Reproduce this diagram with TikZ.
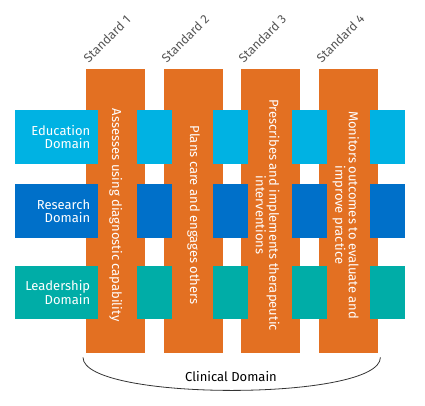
\documentclass[tikz,border=0pt]{standalone}
\usepackage{fontspec}
\setmainfont{Fira Sans}
\usetikzlibrary{positioning}
\definecolor{stdorange}{RGB}{227,112,34}
\definecolor{edublue}{RGB}{0,178,227}
\definecolor{resblue}{RGB}{0,112,201}
\definecolor{leadteal}{RGB}{0,173,167}
\definecolor{stdgray}{RGB}{85,85,85}

\begin{document}
\begin{tikzpicture}[x=1pt, y=-1pt, font=\fontsize{13}{13.5}\selectfont,
  stdcol/.style={fill=stdorange, minimum width=59pt, minimum height=284pt, inner sep=0pt, anchor=north west},
  dombox/.style={minimum width=83pt, minimum height=54pt, inner sep=0pt, anchor=north west, text=white, text width=67pt, align=right},
  cell/.style={minimum width=35pt, minimum height=54pt, inner sep=0pt, anchor=north west},
  colnote/.style={rotate=-90, text=white, align=center, inner sep=0pt},
  stdlabel/.style={rotate=45, anchor=south west, inner sep=0pt, text=stdgray, font=\fontsize{12.5}{14}\selectfont}]
\useasboundingbox (0,0) rectangle (425,406);

% Standards
\node[stdcol] (col1) at (86,69) {};
\node[stdcol] (col2) at (164,69) {};
\node[stdcol] (col3) at (241,69) {};
\node[stdcol] (col4) at (319,69) {};
\node[stdlabel] (std1) at ([xshift=3pt,yshift=5pt]col1.north west) {Standard 1};
\node[stdlabel] (std2) at ([xshift=3pt,yshift=5pt]col2.north west) {Standard 2};
\node[stdlabel] (std3) at ([xshift=3pt,yshift=5pt]col3.north west) {Standard 3};
\node[stdlabel] (std4) at ([xshift=3pt,yshift=5pt]col4.north west) {Standard 4};

% Education
\node[dombox, fill=edublue] (edu) at (15,110) {Education\\Domain};
\node[cell, fill=edublue] (edu1) at (137,110) {};
\node[cell, fill=edublue] (edu2) at (213,110) {};
\node[cell, fill=edublue] (edu3) at (292,110) {};
\node[cell, fill=edublue] (edu4) at (370,110) {};

% Research
\node[dombox, fill=resblue] (res) at (15,184) {Research\\Domain};
\node[cell, fill=resblue] (res1) at (137,184) {};
\node[cell, fill=resblue] (res2) at (213,184) {};
\node[cell, fill=resblue] (res3) at (292,184) {};
\node[cell, fill=resblue] (res4) at (370,184) {};

% Leadership
\node[dombox, fill=leadteal, minimum height=53pt] (lead) at (15,266) {Leadership\\Domain};
\node[cell, fill=leadteal, minimum height=53pt] (lead1) at (137,266) {};
\node[cell, fill=leadteal, minimum height=53pt] (lead2) at (213,266) {};
\node[cell, fill=leadteal, minimum height=53pt] (lead3) at (292,266) {};
\node[cell, fill=leadteal, minimum height=53pt] (lead4) at (370,266) {};

% Column texts
\node[colnote] (txt1) at ([yshift=-4pt]col1.center) {Assesses using diagnostic capability};
\node[colnote] (txt2) at ([yshift=-4pt]col2.center) {Plans care and engages others};
\node[colnote] (txt3) at ([xshift=-3pt,yshift=-4pt]col3.center) {Prescribes and implements therapeutic\\interventions};
\node[colnote] (txt4) at ([xshift=-3pt,yshift=-4pt]col4.center) {Monitors outcomes to evaluate and\\improve practice};

% Clinical
\coordinate (arcl) at ([xshift=-3pt,yshift=-4pt]col1.south west);
\coordinate (arcr) at ([xshift=2pt,yshift=-4pt]col4.south east);
\draw[line width=0.8pt, black!80] (arcl) .. controls ([yshift=-44pt]arcl) and ([yshift=-44pt]arcr) .. (arcr);
\node (clin) at (231,377) {Clinical Domain};
\end{tikzpicture}
\end{document}
